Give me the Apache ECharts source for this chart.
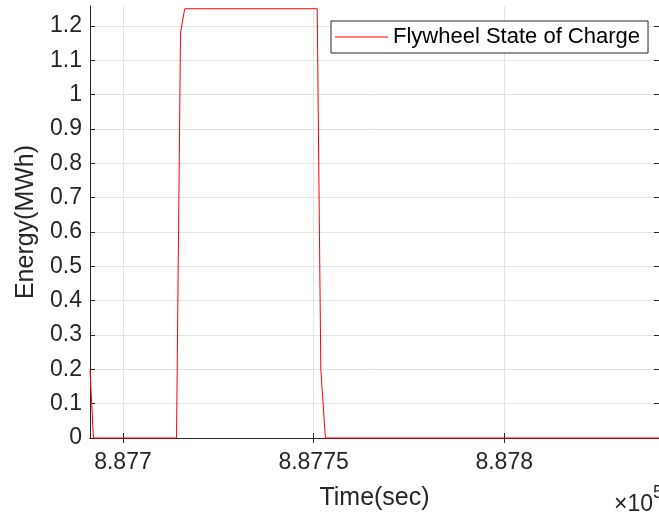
<!DOCTYPE html>
<html>
<head>
<meta charset="utf-8">
<script src="https://cdn.jsdelivr.net/npm/echarts@6/dist/echarts.min.js"></script>
<style>
html,body{margin:0;padding:0;background:#fff;}
#chart{width:659px;height:517px;}
</style>
</head>
<body>
<div id="chart"></div>
<script>
// Data
const timeSec = [887691.36, 887692.25, 887714.05, 887715.1, 887716.2, 887750.95, 887751.9, 887753.1, 887840.6];
const energyMWh = [0.2, 0, 0, 1.18, 1.25, 1.25, 0.2, 0, 0];
const xTickValues = [887700, 887750, 887800];
const xTickLabels = ['8.877', '8.8775', '8.878'];
const yTickValues = [0, 0.1, 0.2, 0.3, 0.4, 0.5, 0.6, 0.7, 0.8, 0.9, 1, 1.1, 1.2];
const yTickLabels = ['0', '0.1', '0.2', '0.3', '0.4', '0.5', '0.6', '0.7', '0.8', '0.9', '1', '1.1', '1.2'];
const xMin = 887691.36, xMax = 887840.6;
const yMin = 0, yMax = 1.258;

const FONT = 'Liberation Sans';
const AX = '#262626';
const GRIDC = '#e3e3e3';

const chart = echarts.init(document.getElementById('chart'), null, {renderer: 'canvas'});

function baseX(pos, main) {
  return {
    type: 'value', position: pos, min: xMin, max: xMax,
    axisLine: {show: true, lineStyle: {color: AX, width: 1}},
    axisTick: {show: true, inside: true, length: 5, customValues: xTickValues, lineStyle: {color: AX}},
    axisLabel: main ? {
      show: true, customValues: xTickValues, margin: 13,
      fontFamily: FONT, fontSize: 23, color: AX,
      formatter: v => xTickLabels[xTickValues.indexOf(v)] ?? ''
    } : {show: false},
    splitLine: main ? {show: true, lineStyle: {color: GRIDC, width: 1}} : {show: false},
    name: main ? 'Time(sec)' : '',
    nameLocation: 'middle', nameGap: 48,
    nameTextStyle: {fontFamily: FONT, fontSize: 25, color: AX}
  };
}
function baseY(pos, main) {
  return {
    type: 'value', position: pos, min: yMin, max: yMax,
    axisLine: {show: true, lineStyle: {color: AX, width: 1}},
    axisTick: {show: true, inside: true, length: 5, customValues: yTickValues, lineStyle: {color: AX}},
    axisLabel: main ? {
      show: true, customValues: yTickValues, margin: 8,
      fontFamily: FONT, fontSize: 23, color: AX,
      formatter: v => {
        const i = yTickValues.findIndex(t => Math.abs(t - v) < 1e-9);
        return i >= 0 ? yTickLabels[i] : '';
      }
    } : {show: false},
    splitLine: main ? {show: true, lineStyle: {color: GRIDC, width: 1}} : {show: false},
    name: main ? 'Energy(MWh)' : '',
    nameLocation: 'middle', nameGap: 51,
    nameTextStyle: {fontFamily: FONT, fontSize: 25, color: AX}
  };
}

chart.setOption({
  animation: false,
  backgroundColor: '#fff',
  grid: {left: 90, top: 6, right: -1, bottom: 79, containLabel: false},
  xAxis: [baseX('bottom', true), baseX('top', false)],
  yAxis: [baseY('left', true), baseY('right', false)],
  legend: {
    left: 331, top: 21,
    orient: 'horizontal',
    backgroundColor: '#fff',
    borderColor: AX, borderWidth: 1, borderRadius: 0,
    padding: [5, 8, 5, 4],
    itemWidth: 53, itemHeight: 1,
    icon: 'rect',
    textStyle: {fontFamily: FONT, fontSize: 22, color: '#000'},
    data: ['Flywheel State of Charge']
  },
  series: [{
    name: 'Flywheel State of Charge',
    type: 'line',
    xAxisIndex: 0, yAxisIndex: 0,
    data: timeSec.map((t, i) => [t, energyMWh[i]]),
    symbol: 'none', showSymbol: false,
    clip: false,
    lineStyle: {color: '#ff0000', width: 1},
    itemStyle: {color: '#ff0000'},
    z: 5
  }],
  graphic: [
    {type: 'text', x: 653, y: 505,
     style: {text: '×10', fontFamily: FONT, fontSize: 23, fill: AX, align: 'right', verticalAlign: 'middle'}},
    {type: 'text', x: 653, y: 493,
     style: {text: '5', fontFamily: FONT, fontSize: 18, fill: AX, align: 'left', verticalAlign: 'middle'}}
  ]
});
</script>
</body>
</html>
